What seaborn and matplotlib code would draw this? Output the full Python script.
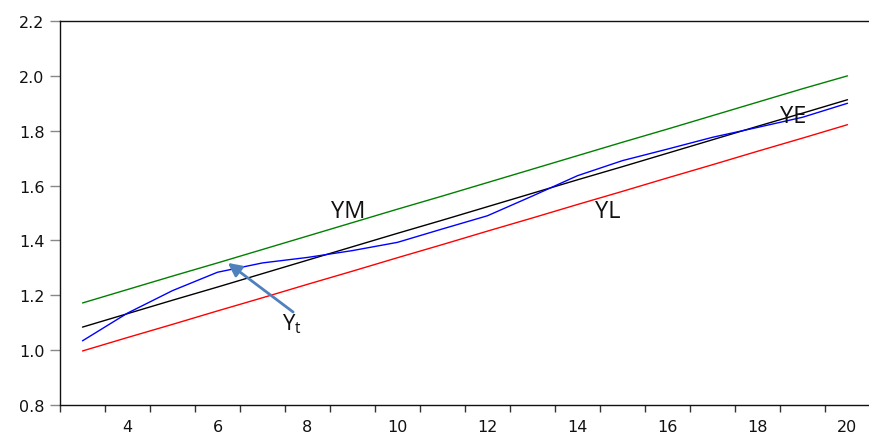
import numpy as np
import pandas as pd
import matplotlib
matplotlib.use("Agg")
import matplotlib.pyplot as plt
import seaborn as sns

years = list(range(3, 21))
yt = [1.034, 1.135, 1.217, 1.284, 1.318, 1.338, 1.363, 1.393, 1.442, 1.490,
      1.562, 1.636, 1.691, 1.733, 1.776, 1.812, 1.849, 1.900]
ym = [1.172, 1.221, 1.270, 1.318, 1.367, 1.416, 1.465, 1.514, 1.562, 1.611,
      1.660, 1.709, 1.758, 1.806, 1.855, 1.904, 1.953, 2.000]
ye = [1.084, 1.133, 1.182, 1.230, 1.279, 1.328, 1.377, 1.426, 1.474, 1.523,
      1.572, 1.621, 1.669, 1.718, 1.767, 1.816, 1.864, 1.913]
yl = [0.997, 1.046, 1.094, 1.143, 1.191, 1.240, 1.288, 1.337, 1.385, 1.434,
      1.482, 1.531, 1.579, 1.628, 1.676, 1.725, 1.773, 1.822]

series = {"YM": ym, "YE": ye, "YL": yl, "Yt": yt}
colors = {"YM": "#008000", "YE": "#000000", "YL": "#ff0000", "Yt": "#0000ff"}

df = pd.concat([pd.DataFrame({"x": years, "y": v, "s": k}) for k, v in series.items()],
               ignore_index=True)

y_ticks = [0.8, 1.0, 1.2, 1.4, 1.6, 1.8, 2.0, 2.2]
x_labels = [4, 6, 8, 10, 12, 14, 16, 18, 20]

sns.set_style("white")
plt.rcParams["font.family"] = ["DejaVu Sans"]

fig = plt.figure(figsize=(8.7, 4.35), dpi=100)
ax = fig.add_axes([60 / 870, 29 / 435, 1 - 60 / 870, 384 / 435])

sns.lineplot(data=df, x="x", y="y", hue="s", palette=colors, ax=ax,
             linewidth=1.0, legend=False)

ax.set_xlim(2.5, 20.5)
ax.set_ylim(0.8, 2.2)
ax.set_xlabel("")
ax.set_ylabel("")

# major x ticks between observations, labels on even years
ax.set_xticks(np.arange(2.5, 20.6, 1.0))
ax.set_xticklabels([])
ax.set_xticks(x_labels, minor=True)
ax.set_xticklabels([str(v) for v in x_labels], minor=True, fontsize=11.5,
                   color="#111111")
ax.tick_params(axis="x", which="major", direction="out", length=5, width=1,
               color="#333333", bottom=True)
ax.tick_params(axis="x", which="minor", length=0, pad=10, bottom=True)

ax.set_yticks(y_ticks)
ax.set_yticklabels([f"{v:.1f}" for v in y_ticks], fontsize=11.5, color="#111111")
ax.tick_params(axis="y", which="major", direction="out", length=7, width=1,
               color="#888888", pad=4, left=True)

for side in ["left", "top", "bottom"]:
    ax.spines[side].set_visible(True)
    ax.spines[side].set_color("#111111")
    ax.spines[side].set_linewidth(1.0)
ax.spines["right"].set_visible(False)

lab_font = dict(color="#111111", family=["Open Sans", "DejaVu Sans"])
ax.text(8.9, 1.507, "YM", ha="center", va="center", fontsize=17, **lab_font)
ax.text(14.68, 1.507, "YL", ha="center", va="center", fontsize=17, **lab_font)
ax.text(18.79, 1.854, "YE", ha="center", va="center", fontsize=17, **lab_font)
ax.text(7.65, 1.10, "Y$_{\\mathregular{t}}$", ha="center", va="center",
        fontsize=16, **lab_font)

ax.annotate("", xy=(6.23, 1.318), xytext=(7.68, 1.139),
            arrowprops=dict(arrowstyle="-|>,head_length=0.8,head_width=0.4",
                            color="#4f81bd", lw=2.0, shrinkA=0, shrinkB=0))

fig.savefig("out.png", dpi=100)
